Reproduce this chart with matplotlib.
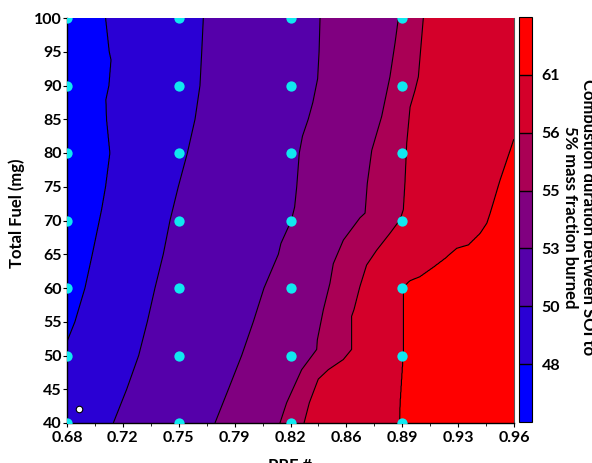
import numpy as np
import matplotlib
matplotlib.use("Agg")
import matplotlib.pyplot as plt

# ---------------- data ----------------
# contour levels of combustion duration (SOI to 5% MFB)
levels = [48, 50, 53, 55, 56, 61]
band_colors = ['#0000ff', '#2a00d4', '#5500aa', '#800080', '#aa0055', '#d4002a', '#ff0000']

# iso-lines of the field: total fuel (mg) and PRF where the value equals each level
iso48_fuel = [100, 95, 93.8, 90, 87.9, 85, 80, 75, 71.6, 70, 65, 60, 55, 52.5, 50, 45, 40]
iso48_prf = [0.7042, 0.7065, 0.7076, 0.7063, 0.7044, 0.7048, 0.7069, 0.7042, 0.7017,
             0.7003, 0.6959, 0.6913, 0.6850, 0.6808, 0.6766, 0.6732, 0.6698]

iso50_fuel = [100, 95, 90, 85, 80, 75, 70, 65, 60, 55, 50, 45, 40]
iso50_prf = [0.7654, 0.7644, 0.7633, 0.7602, 0.7554, 0.7497, 0.7445, 0.7403, 0.7351,
             0.7303, 0.7249, 0.7174, 0.7090]

iso53_fuel = [100, 95, 91, 87.5, 85, 82.5, 80, 75, 72, 70, 66.6, 65, 60, 55, 50, 45, 40]
iso53_prf = [0.8385, 0.8379, 0.8370, 0.8340, 0.8311, 0.8275, 0.8255, 0.8239, 0.8226,
             0.8205, 0.8140, 0.8124, 0.8034, 0.7967, 0.7894, 0.7811, 0.7727]

iso55_fuel = [100, 96.3, 91.3, 85.4, 80.4, 75.5, 71.1, 70.4, 67.1, 63.6, 60.7, 56.8,
              52.3, 50.9, 47.9, 43.0, 40]
iso55_prf = [0.8876, 0.8855, 0.8823, 0.8771, 0.8709, 0.8681, 0.8667, 0.8635, 0.8531,
             0.8468, 0.8447, 0.8406, 0.8368, 0.8364, 0.8270, 0.8176, 0.8134]

iso56_fuel = [100, 91.3, 89.3, 86.8, 81.4, 75.5, 71.6, 70.1, 68.1, 65.6, 63.4, 60.2,
              56.8, 55.8, 50.9, 49.4, 47.9, 46.5, 43.0, 40]
iso56_prf = [0.9032, 0.9001, 0.8980, 0.8949, 0.8928, 0.8917, 0.8907, 0.8886, 0.8823,
             0.8740, 0.8677, 0.8635, 0.8598, 0.8583, 0.8583, 0.8531, 0.8437, 0.8374,
             0.8318, 0.8285]

iso61_fuel = [100, 90, 85, 81.9, 80.4, 76.0, 71.1, 69.6, 68.1, 66.4, 65.9, 64.4, 63.1,
              61.7, 61.1, 60.2, 50.9, 43.0, 40]
iso61_prf = [0.985, 0.974, 0.9665, 0.9596, 0.9575, 0.9512, 0.9450, 0.9429, 0.9387,
             0.9314, 0.9241, 0.9168, 0.9095, 0.9011, 0.8949, 0.8907, 0.8907, 0.8886,
             0.8882]

# measured operating points
meas_prf = [0.68, 0.75, 0.82, 0.89]
meas_fuel = [40, 50, 60, 70, 80, 90, 100]
extra_prf = [0.6877]
extra_fuel = [42.1]

xtick_vals = [0.68, 0.715, 0.75, 0.785, 0.82, 0.855, 0.89, 0.925, 0.96]
xtick_labels = ['0.68', '0.72', '0.75', '0.79', '0.82', '0.86', '0.89', '0.93', '0.96']
ytick_vals = [40, 45, 50, 55, 60, 65, 70, 75, 80, 85, 90, 95, 100]

# ---------------- build field from iso-lines ----------------
yy = np.linspace(40, 100, 1201)
xx = np.linspace(0.68, 0.96, 1121)
isos = [(iso48_fuel, iso48_prf), (iso50_fuel, iso50_prf), (iso53_fuel, iso53_prf),
        (iso55_fuel, iso55_prf), (iso56_fuel, iso56_prf), (iso61_fuel, iso61_prf)]
B = []
for f, p in isos:
    f = np.asarray(f, float); p = np.asarray(p, float)
    o = np.argsort(f)
    B.append(np.interp(yy, f[o], p[o]))
B = np.array(B)
Z = np.empty((len(yy), len(xx)))
fp = np.concatenate([[40.0], levels, [70.0]])
for j in range(len(yy)):
    xp = np.concatenate([[0.0], B[:, j], [2.0]])
    Z[j] = np.interp(xx, xp, fp)

# ---------------- plot ----------------
plt.rcParams['font.family'] = ['Lato', 'DejaVu Sans']
plt.rcParams['font.weight'] = 'bold'

fig = plt.figure(figsize=(5.92, 4.63), dpi=100)
ax = fig.add_axes([67/592, 40/463, 447/592, 405/463])
cax = fig.add_axes([519/592, 41/463, 13/592, 405/463])

bounds = [40] + levels + [70]
cf = ax.contourf(xx, yy, Z, levels=bounds, colors=band_colors)
ax.contour(xx, yy, Z, levels=levels, colors='k', linewidths=0.8)

PX, FY = np.meshgrid(meas_prf, meas_fuel)
ax.scatter(PX.ravel(), FY.ravel(), s=55, color='#10e8f0', zorder=5, linewidths=0)
ax.scatter(extra_prf, extra_fuel, s=22, color='white', edgecolors='black',
           linewidths=0.8, zorder=6)

ax.set_xlim(0.68, 0.96)
ax.set_ylim(40, 100)
ax.set_xticks(xtick_vals)
ax.set_xticklabels(xtick_labels)
ax.set_xticks([0.6975, 0.7325, 0.7675, 0.8025, 0.8375, 0.8725, 0.9075, 0.9425], minor=True)
ax.set_yticks(ytick_vals)
ax.tick_params(axis='both', which='major', direction='out', length=3, width=0.8,
               labelsize=11.5, pad=1)
ax.tick_params(axis='x', which='major', pad=2.5)
ax.tick_params(axis='both', which='minor', direction='out', length=2, width=0.6)
for lab in ax.get_xticklabels() + ax.get_yticklabels():
    lab.set_fontweight('bold')
ax.spines['top'].set_visible(False)
for s in ['left', 'bottom']:
    ax.spines[s].set_linewidth(1.0)
ax.spines['right'].set_color('#555555')

ax.set_xlabel('PRF #', fontsize=12, fontweight='bold')
ax.xaxis.set_label_coords(0.5, -0.086)
ax.set_ylabel('Total Fuel (mg)', fontsize=12, fontweight='bold')
ax.yaxis.set_label_coords(-0.094, 0.518)

cb = fig.colorbar(cf, cax=cax, ticks=levels, drawedges=True)
cb.outline.set_linewidth(0.8)
cb.dividers.set_color('black')
cb.dividers.set_linewidth(1.0)
cax.tick_params(length=0, pad=7, labelsize=11.5)
for lab in cax.get_yticklabels():
    lab.set_fontweight('bold')

fig.text(588/592, 1 - 217/463, 'Combustion duration between SOI to', rotation=270,
         ha='center', va='center', fontsize=12, fontweight='bold')
fig.text(570/592, 1 - 217/463, '5% mass fraction burned', rotation=270,
         ha='center', va='center', fontsize=12, fontweight='bold')

fig.savefig('out.png', dpi=100)
